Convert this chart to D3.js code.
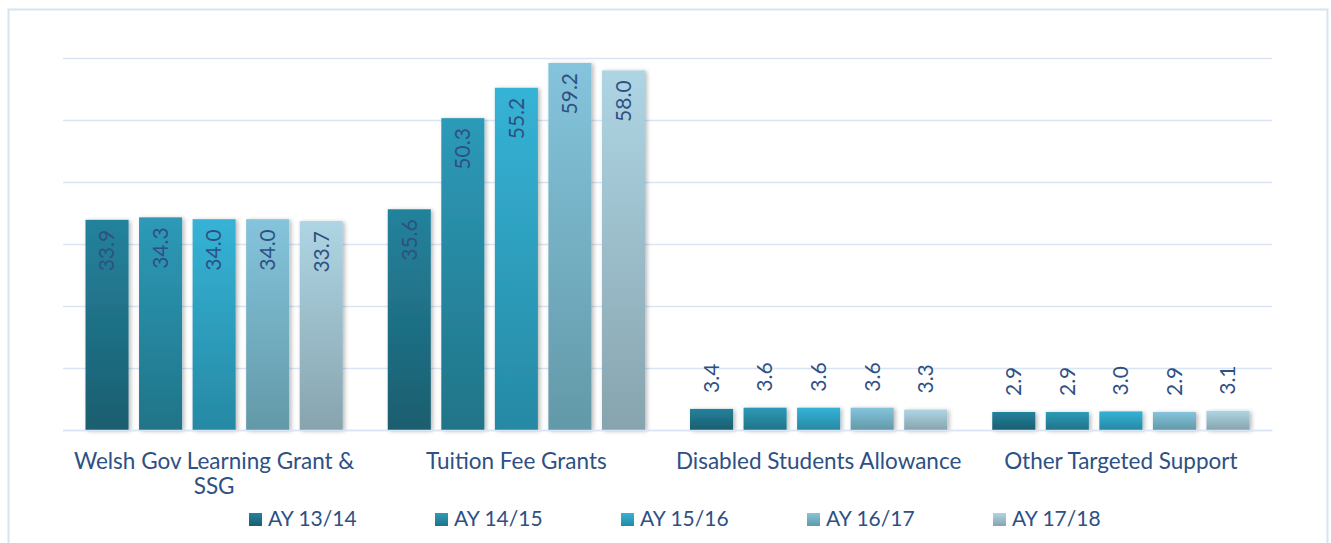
<!DOCTYPE html>
<html>
<head>
<meta charset="utf-8">
<script src="https://cdn.jsdelivr.net/npm/d3@7"></script>
<style>
  body { margin: 0; background: #fff; }
  svg { display: block; font-family: Lato, "Open Sans", sans-serif; }
</style>
</head>
<body>
<script>
'use strict';

let categories = ['Welsh Gov Learning Grant & SSG', 'Tuition Fee Grants', 'Disabled Students Allowance', 'Other Targeted Support'];
let seriesNames = ['AY 13/14', 'AY 14/15', 'AY 15/16', 'AY 16/17', 'AY 17/18'];
let ay1314 = [33.9, 35.6, 3.4, 2.9];
let ay1415 = [34.3, 50.3, 3.6, 2.9];
let ay1516 = [34.0, 55.2, 3.6, 3.0];
let ay1617 = [34.0, 59.2, 3.6, 2.9];
let ay1718 = [33.7, 58.0, 3.3, 3.1];
let yTicks = [0, 10, 20, 30, 40, 50, 60];

let seriesValues = [ay1314, ay1415, ay1516, ay1617, ay1718];
// gradient top / bottom per series
let colorTop = ['#23829c', '#2d9ab8', '#35b3d6', '#84c4dc', '#aed5e4'];
let colorBottom = ['#1b5e6f', '#207488', '#2689a4', '#6399a8', '#87a4ae'];
let textColor = '#2e5083';

let w = 1331, h = 543;
let margin = {left: 63, right: 59, top: 58, bottom: 113};

let svg = d3.select('body')
    .append('svg')
    .attr('width', w)
    .attr('height', h);

let defs = svg.append('defs');
seriesNames.forEach((s, i) => {
    let g = defs.append('linearGradient')
        .attr('id', 'grad' + i)
        .attr('x1', 0).attr('y1', 0).attr('x2', 0).attr('y2', 1);
    g.append('stop').attr('offset', '0%').attr('stop-color', colorTop[i]);
    g.append('stop').attr('offset', '100%').attr('stop-color', colorBottom[i]);
});
defs.append('filter')
    .attr('id', 'shadow')
    .attr('x', '-20%').attr('y', '-20%').attr('width', '150%').attr('height', '150%')
    .append('feDropShadow')
    .attr('dx', 2).attr('dy', 1)
    .attr('stdDeviation', 2)
    .attr('flood-color', '#000')
    .attr('flood-opacity', 0.28);

// outer frame
svg.append('rect')
    .attr('x', 8.5).attr('y', 9.5)
    .attr('width', 1319).attr('height', 540)
    .attr('fill', '#fff')
    .attr('stroke', '#d5e3f2')
    .attr('stroke-width', 2);

let x0 = d3.scaleBand()
    .domain(categories)
    .range([margin.left, w - margin.right]);

let x1 = d3.scaleBand()
    .domain(seriesNames)
    .range([22.5, x0.bandwidth() - 22.5])
    .paddingInner(0.196);

let y = d3.scaleLinear()
    .domain([0, 60])
    .range([h - margin.bottom, margin.top]);

// gridlines
svg.append('g')
    .attr('transform', `translate(${margin.left},0)`)
    .call(d3.axisLeft(y).tickValues(yTicks).tickSize(-(w - margin.left - margin.right)).tickFormat(''))
    .call(g => g.select('.domain').remove())
    .call(g => g.selectAll('line').attr('stroke', '#d9e5f4').attr('stroke-width', 1.5));

// bars
let groups = svg.selectAll('g.cat')
    .data(categories)
    .enter()
    .append('g')
    .attr('class', 'cat')
    .attr('transform', d => `translate(${x0(d)},0)`);

let cells = groups.selectAll('g.bar')
    .data((d, ci) => seriesNames.map((s, si) => ({s: s, si: si, v: seriesValues[si][ci]})))
    .enter()
    .append('g')
    .attr('class', 'bar');

cells.append('rect')
    .attr('x', d => x1(d.s))
    .attr('y', d => y(d.v))
    .attr('width', x1.bandwidth())
    .attr('height', d => y(0) - y(d.v))
    .attr('fill', d => `url(#grad${d.si})`)
    .attr('filter', 'url(#shadow)');

cells.append('text')
    .text(d => d.v.toFixed(1))
    .attr('transform', d => {
        let cx = x1(d.s) + x1.bandwidth() / 2;
        let ty = d.v > 10 ? y(d.v) + 10 : y(d.v) - 16;
        return `translate(${cx},${ty}) rotate(-90)`;
    })
    .attr('text-anchor', d => d.v > 10 ? 'end' : 'start')
    .attr('dy', '0.35em')
    .attr('font-size', '21px')
    .attr('fill', textColor);

// category labels
let xAxis = svg.append('g')
    .attr('transform', `translate(0,${h - margin.bottom})`)
    .call(d3.axisBottom(x0).tickSize(0).tickPadding(0))
    .call(g => g.select('.domain').attr('stroke', '#d9e5f4').attr('stroke-width', 1.5));

xAxis.selectAll('.tick text')
    .attr('font-size', '22.5px')
    .attr('font-family', 'Lato, sans-serif')
    .attr('fill', textColor)
    .attr('y', 39)
    .attr('dy', 0)
    .each(function (d) {
        let t = d3.select(this);
        let words = d.split(' ');
        if (d.length > 28) {
            t.text(null);
            t.append('tspan').attr('x', 0).attr('y', 39).text(words.slice(0, -1).join(' '));
            t.append('tspan').attr('x', 0).attr('y', 64).text(words[words.length - 1]);
        }
    });

// legend
let legend = svg.selectAll('g.legend')
    .data(seriesNames)
    .enter()
    .append('g')
    .attr('class', 'legend')
    .attr('transform', (d, i) => `translate(${249 + i * 186},513)`);

legend.append('rect')
    .attr('width', 13).attr('height', 13)
    .attr('fill', (d, i) => `url(#grad${i})`);

legend.append('text')
    .text(d => d)
    .attr('x', 19)
    .attr('y', 13)
    .attr('font-size', '21px')
    .attr('fill', textColor);
</script>
</body>
</html>
